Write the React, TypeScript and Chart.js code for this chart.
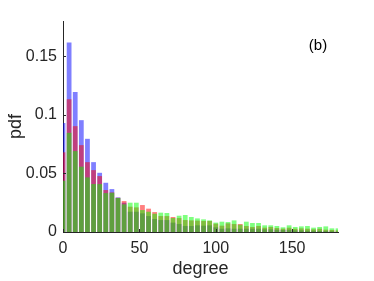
import React, { useEffect, useRef } from "react";
import { Chart, registerables } from "chart.js";

Chart.register(...registerables);

const binCenters: number[] = Array.from({ length: 46 }, (_, k) => k * 4);

const blueValues: number[] = [
  0.093, 0.1616, 0.1195, 0.0954, 0.0795, 0.0596, 0.0505, 0.042, 0.0366, 0.0295,
  0.025, 0.0173, 0.0173, 0.0159, 0.0136, 0.0111, 0.0102, 0.0102, 0.008, 0.0068,
  0.0051, 0.0051, 0.0057, 0.0054, 0.0057, 0.004, 0.0028, 0.0031, 0.0028, 0.0028,
  0.0028, 0.0028, 0.0028, 0.0023, 0.0023, 0.002, 0.0017, 0.002, 0.0014, 0.0014,
  0.0011, 0.0011, 0.0009, 0.0009, 0.0006, 0.0003,
];

const redValues: number[] = [
  0.068, 0.1133, 0.0903, 0.0741, 0.0596, 0.0528, 0.0477, 0.0358, 0.0338, 0.0292,
  0.0264, 0.0216, 0.021, 0.023, 0.0199, 0.017, 0.0136, 0.0136, 0.0128, 0.0119,
  0.0102, 0.0099, 0.0097, 0.0094, 0.0094, 0.0071, 0.0054, 0.0074, 0.0068, 0.0068,
  0.0051, 0.0043, 0.0051, 0.0037, 0.0043, 0.0034, 0.0028, 0.0037, 0.0028, 0.0031,
  0.0028, 0.0023, 0.0028, 0.002, 0.0017, 0.0014,
];

const greenValues: number[] = [
  0.0437, 0.0846, 0.069, 0.0557, 0.0466, 0.0409, 0.0409, 0.0332, 0.0335, 0.029,
  0.0236, 0.025, 0.025, 0.0187, 0.0173, 0.0156, 0.0165, 0.0162, 0.0119, 0.0139,
  0.0145, 0.0128, 0.0116, 0.0108, 0.0099, 0.008, 0.0088, 0.0085, 0.0099, 0.0062,
  0.0088, 0.0077, 0.0077, 0.0057, 0.0057, 0.0051, 0.004, 0.0057, 0.0043, 0.0048,
  0.0051, 0.0037, 0.0043, 0.0048, 0.0031, 0.0031,
];

const xTicks: number[] = [0, 50, 100, 150];
const yTicks: number[] = [0, 0.05, 0.1, 0.15];
const yTickLabels: string[] = ["0", "0.05", "0.1", "0.15"];

const AXIS_COLOR = "#262626";
const FONT = "'Liberation Sans', Arial, Helvetica, sans-serif";

const inwardTicks = {
  id: "inwardTicks",
  afterDraw(chart: any) {
    const { ctx, chartArea, scales } = chart;
    ctx.save();
    ctx.strokeStyle = AXIS_COLOR;
    ctx.lineWidth = 1;
    ctx.beginPath();
    for (const v of yTicks) {
      const y = Math.round(scales.y.getPixelForValue(v)) + 0.5;
      ctx.moveTo(chartArea.left, y);
      ctx.lineTo(chartArea.left + 3, y);
    }
    for (const v of xTicks) {
      const x = Math.round(scales.x.getPixelForValue(v)) + 0.5;
      ctx.moveTo(x, chartArea.bottom);
      ctx.lineTo(x, chartArea.bottom - 3);
    }
    ctx.stroke();
    ctx.fillStyle = "#000";
    ctx.font = `15px ${FONT}`;
    ctx.textAlign = "center";
    ctx.textBaseline = "middle";
    ctx.fillText("(b)", chartArea.right - 20, chartArea.top + 25);
    ctx.restore();
  },
};

export default function App() {
  const canvasRef = useRef<HTMLCanvasElement | null>(null);

  useEffect(() => {
    if (!canvasRef.current) return;
    const mk = (vals: number[]) => binCenters.map((x, i) => ({ x, y: vals[i] }));
    const chart = new Chart(canvasRef.current, {
      type: "bar",
      data: {
        datasets: [
          {
            label: "green",
            data: mk(greenValues),
            backgroundColor: "rgba(0,255,0,0.5)",
            borderWidth: 0,
            grouped: false,
            barPercentage: 1,
            categoryPercentage: 0.78,
          },
          {
            label: "red",
            data: mk(redValues),
            backgroundColor: "rgba(255,0,0,0.5)",
            borderWidth: 0,
            grouped: false,
            barPercentage: 1,
            categoryPercentage: 0.78,
          },
          {
            label: "blue",
            data: mk(blueValues),
            backgroundColor: "rgba(0,0,255,0.5)",
            borderWidth: 0,
            grouped: false,
            barPercentage: 1,
            categoryPercentage: 0.78,
          },
        ],
      } as any,
      options: {
        animation: false,
        responsive: true,
        maintainAspectRatio: false,
        layout: { padding: { top: 21, right: 36, left: 0, bottom: 0 } },
        plugins: { legend: { display: false }, tooltip: { enabled: false } },
        scales: {
          x: {
            type: "linear",
            min: 0,
            max: 180,
            offset: false,
            grid: { display: false, drawTicks: false },
            border: { display: true, color: AXIS_COLOR, width: 1 },
            afterBuildTicks: (scale: any) => {
              scale.ticks = xTicks.map((v) => ({ value: v }));
            },
            afterFit: (scale: any) => {
              scale.height = 49;
            },
            ticks: {
              color: AXIS_COLOR,
              padding: 7,
              maxRotation: 0,
              autoSkip: false,
              font: { family: FONT, size: 16 },
              callback: (v: any) => String(v),
            },
            title: {
              display: true,
              text: "degree",
              color: AXIS_COLOR,
              font: { family: FONT, size: 18 },
              padding: { top: 0, bottom: 1 },
            },
          },
          y: {
            min: 0,
            max: 0.18,
            grid: { display: false, drawTicks: false },
            border: { display: true, color: AXIS_COLOR, width: 1 },
            afterBuildTicks: (scale: any) => {
              scale.ticks = yTicks.map((v) => ({ value: v }));
            },
            afterFit: (scale: any) => {
              scale.width = 63;
            },
            ticks: {
              color: AXIS_COLOR,
              padding: 6,
              autoSkip: false,
              font: { family: FONT, size: 16 },
              callback: (v: any) => {
                const i = yTicks.findIndex((t) => Math.abs(t - Number(v)) < 1e-9);
                return i >= 0 ? yTickLabels[i] : "";
              },
            },
            title: {
              display: true,
              text: "pdf",
              color: AXIS_COLOR,
              font: { family: FONT, size: 18 },
              padding: { top: 5, bottom: 0 },
            },
          },
        },
      },
      plugins: [inwardTicks],
    } as any);
    return () => chart.destroy();
  }, []);

  return (
    <div style={{ position: "fixed", left: 0, top: 0, width: 374, height: 281, background: "#fff" }}>
      <canvas ref={canvasRef} />
    </div>
  );
}
